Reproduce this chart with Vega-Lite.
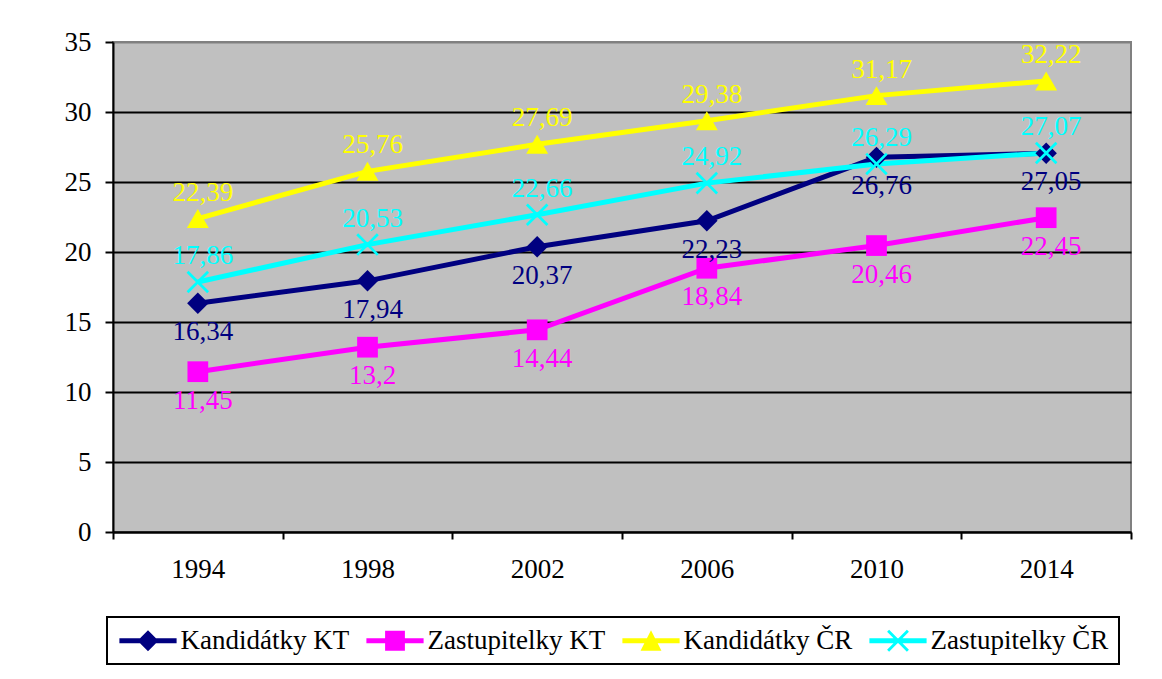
{
  "$schema": "https://vega.github.io/schema/vega-lite/v6.json",
  "width": 1018,
  "height": 490,
  "autosize": {"type": "none"},
  "padding": {"left": 113, "top": 42, "right": 31, "bottom": 147},
  "background": "white",
  "data": {
    "values": [
      {"year": "1994", "series": "Kandidátky KT", "value": 16.34},
      {"year": "1998", "series": "Kandidátky KT", "value": 17.94},
      {"year": "2002", "series": "Kandidátky KT", "value": 20.37},
      {"year": "2006", "series": "Kandidátky KT", "value": 22.23},
      {"year": "2010", "series": "Kandidátky KT", "value": 26.76},
      {"year": "2014", "series": "Kandidátky KT", "value": 27.05},
      {"year": "1994", "series": "Zastupitelky KT", "value": 11.45},
      {"year": "1998", "series": "Zastupitelky KT", "value": 13.2},
      {"year": "2002", "series": "Zastupitelky KT", "value": 14.44},
      {"year": "2006", "series": "Zastupitelky KT", "value": 18.84},
      {"year": "2010", "series": "Zastupitelky KT", "value": 20.46},
      {"year": "2014", "series": "Zastupitelky KT", "value": 22.45},
      {"year": "1994", "series": "Kandidátky ČR", "value": 22.39},
      {"year": "1998", "series": "Kandidátky ČR", "value": 25.76},
      {"year": "2002", "series": "Kandidátky ČR", "value": 27.69},
      {"year": "2006", "series": "Kandidátky ČR", "value": 29.38},
      {"year": "2010", "series": "Kandidátky ČR", "value": 31.17},
      {"year": "2014", "series": "Kandidátky ČR", "value": 32.22},
      {"year": "1994", "series": "Zastupitelky ČR", "value": 17.86},
      {"year": "1998", "series": "Zastupitelky ČR", "value": 20.53},
      {"year": "2002", "series": "Zastupitelky ČR", "value": 22.66},
      {"year": "2006", "series": "Zastupitelky ČR", "value": 24.92},
      {"year": "2010", "series": "Zastupitelky ČR", "value": 26.29},
      {"year": "2014", "series": "Zastupitelky ČR", "value": 27.07}
    ]
  },
  "encoding": {
    "x": {
      "field": "year",
      "type": "ordinal",
      "scale": {"type": "band", "paddingInner": 0, "paddingOuter": 0},
      "axis": {
        "title": null,
        "labelAngle": 0,
        "tickBand": "extent",
        "grid": false,
        "domainColor": "black",
        "domainWidth": 2,
        "tickColor": "black",
        "tickWidth": 2,
        "tickSize": 7,
        "labelPadding": 17,
        "labelFontSize": 27,
        "labelFont": "Liberation Serif",
        "labelColor": "black"
      }
    },
    "y": {
      "field": "value",
      "type": "quantitative",
      "scale": {"domain": [0, 35], "nice": false},
      "axis": {
        "title": null,
        "values": [0, 5, 10, 15, 20, 25, 30, 35],
        "grid": true,
        "gridColor": {"condition": {"test": "datum.value === 35", "value": "#808080"}, "value": "black"},
        "gridWidth": 2,
        "domainColor": "black",
        "domainWidth": 2,
        "tickColor": "black",
        "tickWidth": 2,
        "tickSize": 8,
        "labelPadding": 14,
        "labelFontSize": 27,
        "labelFont": "Liberation Serif",
        "labelColor": "black"
      }
    },
    "color": {
      "field": "series",
      "type": "nominal",
      "scale": {
        "domain": ["Kandidátky KT", "Zastupitelky KT", "Kandidátky ČR", "Zastupitelky ČR"],
        "range": ["#000080", "#FF00FF", "#FFFF00", "#00FFFF"]
      },
      "legend": {
        "title": null,
        "orient": "none",
        "legendX": -6,
        "legendY": 575,
        "direction": "horizontal",
        "columns": 4,
        "padding": 10,
        "columnPadding": 14,
        "symbolSize": 484,
        "symbolOffset": 17.5,
        "labelOffset": 19,
        "labelLimit": 0,
        "labelFont": "Liberation Serif",
        "labelFontSize": 27,
        "labelColor": "black",
        "strokeColor": "black",
        "encode": {
          "symbols": {
            "update": {
              "shape": {"signal": "datum.value === 'Kandidátky KT' ? 'M-2.6,-0.23H2.6V0.23H-2.6Z M-0.95,0L0,-0.95L0.95,0L0,0.95Z' : datum.value === 'Zastupitelky KT' ? 'M-2.6,-0.23H2.6V0.23H-2.6Z M-0.9,-0.9H0.9V0.9H-0.9Z' : datum.value === 'Kandidátky ČR' ? 'M-2.6,-0.23H2.6V0.23H-2.6Z M0,-0.95L0.95,0.9L-0.95,0.9Z' : 'M-2.6,-0.23H2.6V0.23H-2.6Z M-0.808,-0.992L0.992,0.808L0.808,0.992L-0.992,-0.808Z M-0.808,0.992L-0.992,0.808L0.808,-0.992L0.992,-0.808Z'"},
              "fill": {"signal": "scale('color', datum.value)"},
              "stroke": {"value": "transparent"},
              "strokeWidth": {"value": 0},
              "opacity": {"value": 1},
              "fillOpacity": {"value": 1}
            }
          },
          "legend": {"update": {"strokeWidth": {"value": 2}}}
        }
      }
    }
  },
  "layer": [
    {"mark": {"type": "line", "strokeWidth": 5}},
    {
      "transform": [{"filter": "datum.series === 'Kandidátky KT'"}],
      "mark": {"type": "point", "filled": true, "opacity": 1, "size": 460, "shape": "diamond"}
    },
    {
      "transform": [{"filter": "datum.series === 'Zastupitelky KT'"}],
      "mark": {"type": "point", "filled": true, "opacity": 1, "size": 430, "shape": "square"}
    },
    {
      "transform": [{"filter": "datum.series === 'Kandidátky ČR'"}],
      "mark": {"type": "point", "filled": true, "opacity": 1, "size": 480, "shape": "triangle-up"}
    },
    {
      "transform": [{"filter": "datum.series === 'Zastupitelky ČR'"}],
      "mark": {"type": "point", "filled": true, "opacity": 1, "size": 460, "shape": "M-0.87,-1.05L1.05,0.87L0.87,1.05L-1.05,-0.87Z M-0.87,1.05L-1.05,0.87L0.87,-1.05L1.05,-0.87Z"}
    },
    {
      "transform": [{"filter": "indexof(datum.series, 'KT') >= 0"}],
      "mark": {"type": "text", "dx": 5, "dy": 29, "fontSize": 27, "font": "Liberation Serif", "baseline": "middle"},
      "encoding": {"text": {"field": "value", "type": "quantitative", "format": "~g"}}
    },
    {
      "transform": [{"filter": "indexof(datum.series, 'ČR') >= 0"}],
      "mark": {"type": "text", "dx": 5, "dy": -26, "fontSize": 27, "font": "Liberation Serif", "baseline": "middle"},
      "encoding": {"text": {"field": "value", "type": "quantitative", "format": "~g"}}
    }
  ],
  "config": {
    "font": "Liberation Serif",
    "locale": {
      "number": {"decimal": ",", "thousands": " ", "grouping": [3], "currency": ["", " Kč"]}
    },
    "view": {"fill": "#C0C0C0", "stroke": "#808080", "strokeWidth": 2}
  }
}
